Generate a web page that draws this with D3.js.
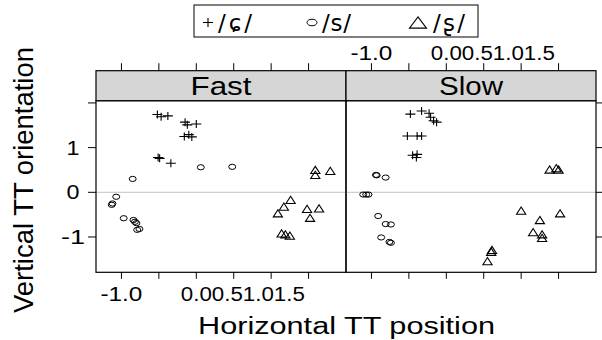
<!DOCTYPE html>
<html>
<head>
<meta charset="utf-8">
<script src="https://cdn.jsdelivr.net/npm/d3@7"></script>
<style>
  body { margin: 0; background: #fff; }
  svg { display: block; font-family: 'Liberation Sans', Arial, 'DejaVu Sans', sans-serif; }
</style>
</head>
<body>
<div id="chart"></div>
<script>
// Panel names and phoneme legend labels
const panelNames = ['Fast', 'Slow'];
const phonemeLabels = ['/ɕ/', '/s/', '/ʂ/'];

// [horizontal TT position, vertical TT orientation] pairs
const fastCurl = [[-0.52, 1.74], [-0.47, 1.69], [-0.38, 1.71], [-0.15, 1.57], [-0.12, 1.51], [0.00, 1.53],
  [-0.16, 1.25], [-0.10, 1.29], [-0.06, 1.24], [-0.51, 0.78], [-0.49, 0.76], [-0.34, 0.65]];
const fastDental = [[0.06, 0.56], [0.48, 0.57], [-0.85, 0.30], [-1.07, -0.10], [-1.12, -0.25], [-1.13, -0.28],
  [-0.97, -0.58], [-0.84, -0.62], [-0.82, -0.66], [-0.80, -0.69], [-0.79, -0.84], [-0.76, -0.82]];
const fastRetro = [[1.59, 0.50], [1.59, 0.39], [1.79, 0.48], [1.26, -0.17], [1.17, -0.32], [1.09, -0.47],
  [1.48, -0.37], [1.64, -0.36], [1.52, -0.57], [1.14, -0.92], [1.19, -0.94], [1.25, -0.97]];
const slowCurl = [[-0.48, 1.75], [-0.33, 1.82], [-0.23, 1.77], [-0.21, 1.68], [-0.17, 1.60], [-0.13, 1.57],
  [-0.52, 1.26], [-0.39, 1.26], [-0.33, 1.26], [-0.45, 0.83], [-0.39, 0.85], [-0.40, 0.78]];
const slowDental = [[-0.94, 0.39], [-0.93, 0.38], [-0.81, 0.33], [-1.11, -0.05], [-1.07, -0.05], [-1.04, -0.05],
  [-0.91, -0.53], [-0.81, -0.71], [-0.74, -0.72], [-0.87, -1.01], [-0.76, -1.11], [-0.74, -1.13]];
const slowRetro = [[1.38, 0.51], [1.47, 0.54], [1.50, 0.51], [1.00, -0.41], [1.52, -0.47], [1.25, -0.62],
  [1.16, -0.89], [1.28, -0.94], [1.28, -1.02], [0.61, -1.29], [0.60, -1.33], [0.55, -1.54]];

// Axis ticks
const xDomain = [-1.34, 2.0];
const yDomain = [-1.79, 2.05];
const xTicks = [-1.0, -0.5, 0.0, 0.5, 1.0, 1.5];
const xTickLabels = ['-1.0', '', '0.0', '0.5', '1.0', '1.5'];
const yTicks = [2, 1, 0, -1];
const yTickLabels = ['', '1', '0', '-1'];

const panelData = [
  [fastCurl, fastDental, fastRetro],
  [slowCurl, slowDental, slowRetro]
];

// Layout
const width = 602;
const height = 340;
const margin = {left: 96, top: 100.7};
const panelW = 250;
const panelH = 171.6;
const stripH = 30;

const svg = d3.select('#chart').append('svg')
  .attr('width', width)
  .attr('height', height);

const xScale = d3.scaleLinear().domain(xDomain).range([0, panelW]);
const yScale = d3.scaleLinear().domain(yDomain).range([panelH, 0]);

/**********************************************************************************
 * Marker paths: plus, triangle (apex up); circles are drawn as ellipses
 **********************************************************************************/
function plusPath(x, y, rx, ry) {
  return 'M' + (x - rx) + ',' + y + 'H' + (x + rx) + 'M' + x + ',' + (y - ry) + 'V' + (y + ry);
}
function trianglePath(x, y, rx, ry) {
  return 'M' + x + ',' + (y - ry) + 'L' + (x + rx) + ',' + (y + ry) + 'L' + (x - rx) + ',' + (y + ry) + 'Z';
}
function drawMarker(g, kind, x, y, big) {
  if (kind === 0) {
    g.append('path').attr('d', plusPath(x, y, 5, big ? 4.5 : 4))
      .attr('stroke', '#000').attr('stroke-width', 1.1).attr('fill', 'none');
  } else if (kind === 1) {
    g.append('ellipse').attr('cx', x).attr('cy', y)
      .attr('rx', big ? 5 : 3.5).attr('ry', big ? 3.3 : 2.6)
      .attr('stroke', '#000').attr('stroke-width', 1).attr('fill', 'none');
  } else {
    g.append('path').attr('d', trianglePath(x, y, big ? 8.5 : 4.6, big ? 5.6 : 3.6))
      .attr('stroke', '#000').attr('stroke-width', 1.1).attr('fill', 'none');
  }
}

// Add text with a fixed drawn width (the reference's text is horizontally stretched)
function addText(g, str, x, y, size, len, anchor) {
  const t = g.append('text')
    .attr('x', x).attr('y', y)
    .attr('font-size', size)
    .attr('text-anchor', anchor || 'middle')
    .attr('fill', '#000')
    .text(str);
  if (len) { t.attr('textLength', len).attr('lengthAdjust', 'spacingAndGlyphs'); }
  return t;
}

/**********************************************************************************
 * Legend (DejaVu Sans carries the IPA glyphs, so the whole label uses it)
 **********************************************************************************/
const legend = svg.append('g').attr('class', 'legend');
legend.append('rect')
  .attr('x', 194).attr('y', 5).attr('width', 284).attr('height', 32)
  .attr('fill', '#fff').attr('stroke', '#000').attr('stroke-width', 1);
const legendX = [208, 312, 418];
const legendTextLen = [34, 29, 32];
phonemeLabels.forEach((lab, i) => {
  drawMarker(legend, i, legendX[i], 22.5, true);
  addText(legend, lab, legendX[i] + (i === 2 ? 15 : 10), 30.5, 23, legendTextLen[i], 'start')
    .attr('lengthAdjust', 'spacing')
    .attr('font-family', "'DejaVu Sans', sans-serif");
});

/**********************************************************************************
 * Tick labels along x: "-1.0" sits on its tick, the later labels are packed
 * one after the other after "0.0", as in the reference
 **********************************************************************************/
function xLabels(g, y) {
  let prevRight = null;
  xTicks.forEach((v, i) => {
    const lab = xTickLabels[i];
    if (!lab) { return; }
    const len = lab.length > 3 ? 42 : 31;
    let cx = xScale(v);
    if (v > 0 && prevRight !== null) { cx = prevRight + len / 2; }
    addText(g, lab, cx, y, 19.5, len);
    prevRight = cx + len / 2;
  });
}

/**********************************************************************************
 * Panels
 **********************************************************************************/
panelNames.forEach((name, p) => {
  const g = svg.append('g')
    .attr('class', 'panel')
    .attr('transform', 'translate(' + (margin.left + p * panelW) + ',' + margin.top + ')');

  // Reference line at zero
  g.append('line')
    .attr('x1', 0).attr('x2', panelW)
    .attr('y1', yScale(0)).attr('y2', yScale(0))
    .attr('stroke', '#c4c4c4').attr('stroke-width', 1);

  // Points
  panelData[p].forEach((series, k) => {
    series.forEach((d) => drawMarker(g, k, xScale(d[0]), yScale(d[1]), false));
  });

  // Frame
  g.append('rect')
    .attr('x', 0).attr('y', 0).attr('width', panelW).attr('height', panelH)
    .attr('fill', 'none').attr('stroke', '#000').attr('stroke-width', 1.2);

  // Strip
  g.append('rect')
    .attr('x', 0).attr('y', -stripH).attr('width', panelW).attr('height', stripH)
    .attr('fill', '#d6d6d6').attr('stroke', '#000').attr('stroke-width', 1.2);
  addText(g, name, panelW / 2, -5.5, 26, p === 0 ? 61 : 64);

  // Top and bottom ticks on both panels
  xTicks.forEach((v) => {
    g.append('line').attr('x1', xScale(v)).attr('x2', xScale(v))
      .attr('y1', panelH).attr('y2', panelH + 6.5)
      .attr('stroke', '#000').attr('stroke-width', 1);
    g.append('line').attr('x1', xScale(v)).attr('x2', xScale(v))
      .attr('y1', -stripH).attr('y2', -stripH - 7.5)
      .attr('stroke', '#000').attr('stroke-width', 1);
  });

  // Labels: bottom on the left panel, top on the right panel
  if (p === 0) {
    xLabels(g, 200);
  } else {
    xLabels(g, -40.7);
  }

  // y ticks: left side on left panel (labelled), right side on right panel
  yTicks.forEach((v, i) => {
    if (p === 0) {
      g.append('line').attr('x1', -8).attr('x2', 0)
        .attr('y1', yScale(v)).attr('y2', yScale(v))
        .attr('stroke', '#000').attr('stroke-width', 1);
      const lab = yTickLabels[i];
      if (lab) {
        addText(g, lab, -23, yScale(v) + 7, 19.5, lab.length > 1 ? 24 : 13);
      }
    } else {
      g.append('line').attr('x1', panelW).attr('x2', panelW + 6)
        .attr('y1', yScale(v)).attr('y2', yScale(v))
        .attr('stroke', '#000').attr('stroke-width', 1);
    }
  });
});

/**********************************************************************************
 * Axis titles
 **********************************************************************************/
addText(svg, 'Horizontal TT position', 346.5, 334, 23, 297);
svg.append('text')
  .attr('transform', 'translate(33,180) rotate(-90)')
  .attr('text-anchor', 'middle')
  .attr('font-size', 27)
  .attr('textLength', 266)
  .attr('lengthAdjust', 'spacingAndGlyphs')
  .attr('fill', '#000')
  .text('Vertical TT orientation');
</script>
</body>
</html>
